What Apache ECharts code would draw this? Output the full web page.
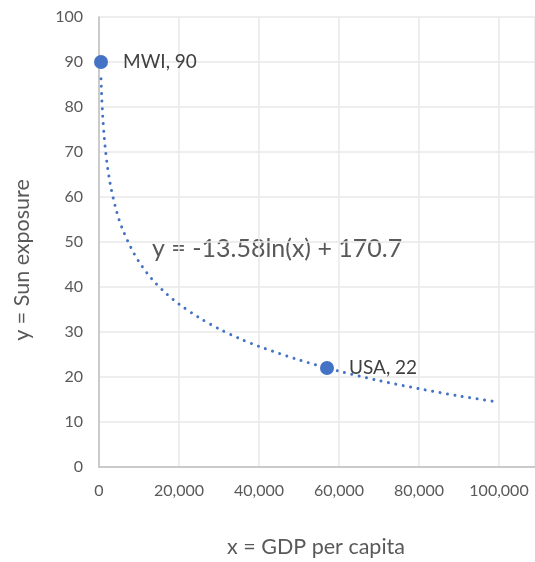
<!DOCTYPE html>
<html>
<head>
<meta charset="utf-8">
<script src="https://cdn.jsdelivr.net/npm/echarts@6/dist/echarts.min.js"></script>
<style>
html,body{margin:0;padding:0;background:#fff;}
#chart{width:535px;height:562px;}
</style>
</head>
<body>
<div id="chart"></div>
<script>
// Data
const countries = ['MWI', 'USA'];
const gdpPerCapita = [500, 57000];
const sunExposure = [90, 22];

// Logarithmic trendline, values
const trendX = [500, 600, 700, 850, 1000, 1250, 1500, 2000, 2500, 3000, 4000, 5000, 6000, 8000, 10000, 12000, 14000, 17000, 20000, 25000, 30000, 35000, 40000, 50000, 60000, 70000, 80000, 90000, 100000];
const trendY = [86.3, 83.8, 81.7, 79.1, 76.9, 73.9, 71.4, 67.5, 64.5, 62.0, 58.1, 55.0, 52.6, 48.7, 45.6, 43.1, 41.0, 38.4, 36.2, 33.2, 30.7, 28.6, 26.8, 23.8, 21.3, 19.2, 17.4, 15.8, 14.4];
const trendLabel = 'y = -13.58ln(x) + 170.7';

// Visible tick labels; the plot area runs on past the right edge of the picture
const xTicks = [0, 20000, 40000, 60000, 80000, 100000];
const xVisibleMax = 109000;
const yTicks = [0, 10, 20, 30, 40, 50, 60, 70, 80, 90, 100];

const FONT = 'Lato';
const chart = echarts.init(document.getElementById('chart'), null, {renderer: 'canvas'});
const fmt = v => (xTicks.indexOf(v) >= 0 ? v.toLocaleString('en-US') : '');

chart.setOption({
  animation: false,
  backgroundColor: '#ffffff',
  grid: {left: 99, top: 17, right: 0, bottom: 95, containLabel: false},
  xAxis: {
    type: 'value', min: xTicks[0], max: xVisibleMax, interval: 20000,
    axisLine: {show: true, lineStyle: {color: '#bfbfbf', width: 1.5}},
    axisTick: {show: false},
    splitLine: {show: true, lineStyle: {color: '#e8e8e8', width: 1.5}},
    axisLabel: {color: '#595959', fontFamily: FONT, fontSize: 16, margin: 16, formatter: fmt, showMaxLabel: false}
  },
  yAxis: {
    type: 'value', min: yTicks[0], max: yTicks[yTicks.length - 1], interval: 10,
    axisLine: {show: true, lineStyle: {color: '#bfbfbf', width: 1.5}},
    axisTick: {show: false},
    splitLine: {show: true, lineStyle: {color: '#e8e8e8', width: 1.5}},
    axisLabel: {color: '#595959', fontFamily: FONT, fontSize: 16, margin: 16}
  },
  graphic: [
    {type: 'text', left: 152, top: 236, style: {text: trendLabel, fill: '#595959', font: '25px ' + FONT}},
    {type: 'text', x: 316, y: 547, style: {text: 'x = GDP per capita', fill: '#595959', font: '21.5px ' + FONT, textAlign: 'center', textVerticalAlign: 'middle'}},
    {type: 'text', x: 22, y: 260, rotation: Math.PI / 2, style: {text: 'y = Sun exposure', fill: '#595959', font: '21.5px ' + FONT, textAlign: 'center', textVerticalAlign: 'middle'}}
  ],
  series: [
    {
      type: 'line',
      data: trendX.map((x, i) => [x, trendY[i]]),
      smooth: 0.3,
      showSymbol: false,
      silent: true,
      lineStyle: {color: '#4472C4', width: 3, type: [0.01, 7.5], cap: 'round'},
      z: 2
    },
    {
      type: 'scatter',
      data: gdpPerCapita.map((x, i) => ({value: [x, sunExposure[i]], name: countries[i]})),
      symbol: 'circle',
      symbolSize: 14,
      itemStyle: {color: '#4472C4', opacity: 1},
      label: {
        show: true, position: 'right', distance: 15,
        formatter: p => p.name + ', ' + p.value[1],
        color: '#404040', fontFamily: FONT, fontSize: 19
      },
      z: 3
    }
  ]
});
</script>
</body>
</html>
